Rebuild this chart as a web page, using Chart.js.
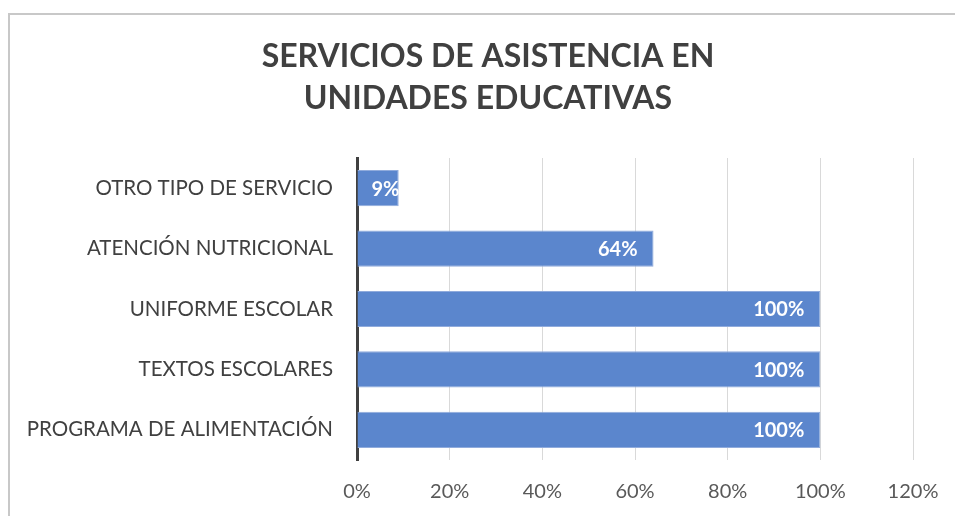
<!DOCTYPE html>
<html>
<head>
<meta charset="utf-8">
<script src="https://cdn.jsdelivr.net/npm/chart.js@4"></script>
<style>
  html, body { margin: 0; padding: 0; background: #fff; overflow: hidden; }
  #wrap { position: relative; width: 955px; height: 516px; }
  #marco { position: absolute; left: 8px; top: 13px; width: 1000px; height: 600px;
           border: 2px solid #c8c8c8; pointer-events: none; }
</style>
</head>
<body>
<div id="wrap">
  <canvas id="serviciosChart" width="955" height="516"></canvas>
  <div id="marco"></div>
</div>
<script>
var categorias = ['OTRO TIPO DE SERVICIO', 'ATENCIÓN NUTRICIONAL', 'UNIFORME ESCOLAR', 'TEXTOS ESCOLARES', 'PROGRAMA DE ALIMENTACIÓN'];
var porcentajes = [9, 64, 100, 100, 100];
var titulo = ['SERVICIOS DE ASISTENCIA EN', 'UNIDADES EDUCATIVAS'];

var fuente = 'Lato';

// titulo centrado sobre el marco completo, no sobre el area del grafico
var tituloCentrado = {
    id: 'tituloCentrado',
    afterDraw: function (chart) {
        var ctx = chart.ctx;
        ctx.save();
        ctx.font = 'bold 32px ' + fuente;
        ctx.fillStyle = '#404040';
        ctx.textAlign = 'center';
        ctx.textBaseline = 'middle';
        titulo.forEach(function (linea, i) {
            ctx.fillText(linea, 488, 57 + i * 42);
        });
        ctx.restore();
    }
};

// etiquetas blancas dentro del extremo de cada barra
var etiquetasBarras = {
    id: 'etiquetasBarras',
    afterDatasetsDraw: function (chart) {
        var ctx = chart.ctx;
        var meta = chart.getDatasetMeta(0);
        ctx.save();
        ctx.font = 'bold 20px ' + fuente;
        ctx.fillStyle = '#ffffff';
        ctx.textBaseline = 'middle';
        ctx.textAlign = 'left';
        meta.data.forEach(function (bar, i) {
            var texto = porcentajes[i] + '%';
            var w = ctx.measureText(texto).width;
            var x = Math.max(bar.x - 16 - w, bar.base + 14);
            ctx.fillText(texto, x, bar.y + 1);
        });
        ctx.restore();
    }
};

var ctx = document.getElementById('serviciosChart').getContext('2d');

var myChart = new Chart(ctx, {
    type: 'bar',
    data: {
        labels: categorias,
        datasets: [{
            data: porcentajes,
            backgroundColor: '#5b86cd',
            borderColor: '#90abdc',
            borderWidth: 1,
            borderSkipped: 'start',
            barPercentage: 0.6,
            categoryPercentage: 1
        }]
    },
    options: {
        indexAxis: 'y',
        responsive: false,
        animation: false,
        layout: { padding: { top: 158, left: 0, right: 42, bottom: 0 } },
        scales: {
            x: {
                min: 0,
                max: 120,
                ticks: {
                    stepSize: 20,
                    padding: 20,
                    color: '#595959',
                    font: { family: fuente, size: 20 },
                    callback: function (v) { return v + '%'; }
                },
                grid: { color: '#d9d9d9', lineWidth: 1, drawTicks: false },
                border: { display: false },
                afterFit: function (scale) {
                    scale.height = 56;
                    scale.paddingLeft = 0;
                    scale.paddingRight = 0;
                }
            },
            y: {
                ticks: {
                    padding: 24,
                    color: '#404040',
                    font: { family: fuente, size: 20.5 }
                },
                grid: { display: false, drawTicks: false },
                border: { display: true, color: '#404040', width: 3 },
                afterFit: function (scale) { scale.width = 357; }
            }
        },
        plugins: {
            legend: { display: false },
            tooltip: { enabled: false },
            title: { display: false }
        }
    },
    plugins: [etiquetasBarras, tituloCentrado]
});
</script>
</body>
</html>
